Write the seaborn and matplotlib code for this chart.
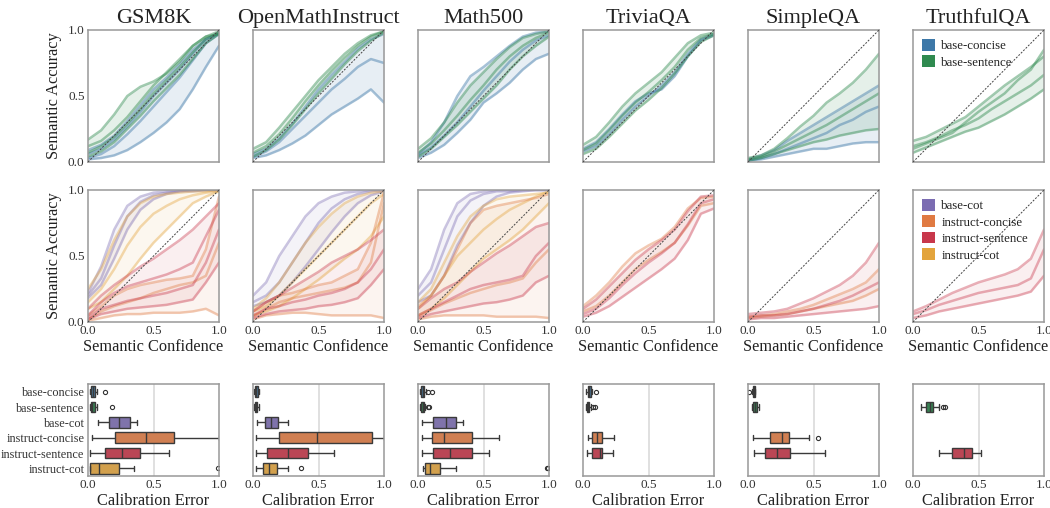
import numpy as np
import pandas as pd
import matplotlib
matplotlib.use("Agg")
import matplotlib.pyplot as plt
from matplotlib.patches import Patch
import seaborn as sns

# ---------------- data ----------------
datasets = ["GSM8K", "OpenMathInstruct", "Math500", "TriviaQA", "SimpleQA", "TruthfulQA"]
configs = ["base-concise", "base-sentence", "base-cot",
           "instruct-concise", "instruct-sentence", "instruct-cot"]
conf_grid = [0.0, 0.1, 0.2, 0.3, 0.4, 0.5, 0.6, 0.7, 0.8, 0.9, 1.0]

# --- top row: base-concise / base-sentence reliability curves ---
gsm8k_base_concise = [
    [0.06, 0.10, 0.17, 0.27, 0.38, 0.50, 0.60, 0.70, 0.82, 0.93, 0.98],
    [0.03, 0.06, 0.12, 0.21, 0.31, 0.42, 0.53, 0.64, 0.77, 0.90, 0.97],
    [0.02, 0.03, 0.05, 0.09, 0.15, 0.22, 0.30, 0.40, 0.55, 0.72, 0.88],
    [0.09, 0.13, 0.20, 0.31, 0.43, 0.55, 0.64, 0.74, 0.85, 0.93, 0.97]]
gsm8k_base_sentence = [
    [0.07, 0.12, 0.19, 0.29, 0.40, 0.52, 0.62, 0.72, 0.83, 0.93, 0.98],
    [0.12, 0.16, 0.24, 0.34, 0.46, 0.58, 0.68, 0.78, 0.88, 0.95, 0.99],
    [0.04, 0.08, 0.15, 0.25, 0.35, 0.46, 0.56, 0.66, 0.78, 0.90, 0.97],
    [0.17, 0.24, 0.36, 0.50, 0.57, 0.61, 0.67, 0.76, 0.88, 0.95, 0.97]]
openmath_base_concise = [
    [0.06, 0.10, 0.18, 0.29, 0.42, 0.55, 0.66, 0.76, 0.86, 0.93, 0.97],
    [0.04, 0.08, 0.15, 0.25, 0.35, 0.45, 0.55, 0.63, 0.72, 0.78, 0.75],
    [0.03, 0.05, 0.09, 0.14, 0.20, 0.28, 0.36, 0.42, 0.48, 0.55, 0.45]]
openmath_base_sentence = [
    [0.07, 0.12, 0.21, 0.33, 0.46, 0.58, 0.69, 0.79, 0.88, 0.95, 0.99],
    [0.10, 0.15, 0.26, 0.38, 0.50, 0.62, 0.72, 0.82, 0.90, 0.96, 0.99],
    [0.04, 0.09, 0.17, 0.28, 0.40, 0.52, 0.63, 0.74, 0.84, 0.92, 0.98]]
math500_base_concise = [
    [0.05, 0.11, 0.20, 0.30, 0.42, 0.54, 0.65, 0.76, 0.85, 0.92, 0.96],
    [0.03, 0.07, 0.13, 0.22, 0.32, 0.45, 0.52, 0.60, 0.70, 0.78, 0.82],
    [0.06, 0.15, 0.30, 0.50, 0.65, 0.72, 0.80, 0.88, 0.95, 0.98, 0.99]]
math500_base_sentence = [
    [0.07, 0.14, 0.24, 0.35, 0.47, 0.58, 0.70, 0.80, 0.88, 0.94, 0.98],
    [0.10, 0.18, 0.30, 0.45, 0.58, 0.68, 0.78, 0.87, 0.94, 0.97, 0.99],
    [0.04, 0.10, 0.19, 0.28, 0.38, 0.48, 0.58, 0.70, 0.80, 0.88, 0.95]]
trivia_base_concise = [
    [0.08, 0.12, 0.21, 0.32, 0.42, 0.50, 0.58, 0.68, 0.82, 0.93, 0.97],
    [0.10, 0.15, 0.25, 0.36, 0.46, 0.52, 0.55, 0.65, 0.80, 0.92, 0.96]]
trivia_base_sentence = [
    [0.09, 0.14, 0.24, 0.35, 0.45, 0.53, 0.62, 0.72, 0.85, 0.94, 0.97],
    [0.13, 0.19, 0.30, 0.42, 0.52, 0.60, 0.68, 0.79, 0.90, 0.96, 0.98],
    [0.06, 0.10, 0.19, 0.29, 0.39, 0.47, 0.56, 0.67, 0.80, 0.91, 0.96]]
simple_base_concise = [
    [0.02, 0.05, 0.09, 0.16, 0.22, 0.28, 0.34, 0.40, 0.46, 0.52, 0.58],
    [0.01, 0.03, 0.06, 0.10, 0.14, 0.18, 0.22, 0.28, 0.32, 0.38, 0.42],
    [0.01, 0.02, 0.04, 0.06, 0.08, 0.10, 0.10, 0.12, 0.14, 0.15, 0.15]]
simple_base_sentence = [
    [0.02, 0.04, 0.08, 0.13, 0.18, 0.23, 0.28, 0.34, 0.40, 0.46, 0.52],
    [0.03, 0.05, 0.10, 0.18, 0.27, 0.35, 0.45, 0.52, 0.60, 0.70, 0.82],
    [0.01, 0.03, 0.06, 0.09, 0.12, 0.15, 0.17, 0.20, 0.22, 0.24, 0.25]]
truthful_base_sentence = [
    [0.12, 0.15, 0.19, 0.24, 0.28, 0.33, 0.40, 0.46, 0.52, 0.58, 0.66],
    [0.16, 0.19, 0.24, 0.29, 0.34, 0.42, 0.50, 0.58, 0.65, 0.72, 0.80],
    [0.07, 0.11, 0.15, 0.19, 0.23, 0.26, 0.31, 0.36, 0.42, 0.48, 0.55],
    [0.10, 0.14, 0.18, 0.22, 0.30, 0.38, 0.45, 0.52, 0.62, 0.70, 0.85]]

# --- middle row: base-cot / instruct-* reliability curves ---
gsm8k_base_cot = [
    [0.20, 0.33, 0.58, 0.80, 0.91, 0.96, 0.98, 0.99, 1.00, 1.00, 1.00],
    [0.22, 0.42, 0.70, 0.88, 0.95, 0.98, 0.99, 1.00, 1.00, 1.00, 1.00],
    [0.18, 0.28, 0.48, 0.70, 0.85, 0.93, 0.97, 0.99, 0.99, 1.00, 1.00]]
gsm8k_instruct_cot = [
    [0.15, 0.25, 0.40, 0.58, 0.72, 0.82, 0.88, 0.93, 0.96, 0.98, 0.99],
    [0.10, 0.15, 0.25, 0.35, 0.48, 0.60, 0.70, 0.80, 0.90, 0.95, 0.99],
    [0.25, 0.40, 0.62, 0.80, 0.90, 0.95, 0.97, 0.98, 0.99, 0.99, 1.00]]
gsm8k_instruct_concise = [
    [0.02, 0.08, 0.12, 0.15, 0.18, 0.22, 0.25, 0.28, 0.30, 0.35, 0.60],
    [0.01, 0.03, 0.05, 0.06, 0.06, 0.07, 0.07, 0.07, 0.08, 0.10, 0.05],
    [0.05, 0.12, 0.20, 0.25, 0.28, 0.30, 0.32, 0.33, 0.35, 0.55, 0.95]]
gsm8k_instruct_sentence = [
    [0.03, 0.10, 0.13, 0.16, 0.18, 0.20, 0.22, 0.25, 0.28, 0.45, 0.70],
    [0.05, 0.15, 0.22, 0.27, 0.30, 0.33, 0.36, 0.40, 0.45, 0.65, 0.85],
    [0.02, 0.06, 0.08, 0.10, 0.11, 0.12, 0.13, 0.15, 0.17, 0.30, 0.45],
    [0.10, 0.20, 0.28, 0.35, 0.42, 0.48, 0.55, 0.62, 0.70, 0.80, 0.90]]
openmath_base_cot = [
    [0.15, 0.20, 0.30, 0.45, 0.60, 0.75, 0.86, 0.93, 0.97, 0.99, 1.00],
    [0.20, 0.30, 0.50, 0.65, 0.80, 0.90, 0.95, 0.98, 0.99, 1.00, 1.00],
    [0.12, 0.15, 0.20, 0.30, 0.42, 0.55, 0.68, 0.80, 0.90, 0.96, 0.99]]
openmath_instruct_cot = [
    [0.08, 0.12, 0.20, 0.30, 0.40, 0.50, 0.60, 0.70, 0.80, 0.90, 0.97],
    [0.10, 0.18, 0.30, 0.45, 0.60, 0.72, 0.82, 0.90, 0.95, 0.98, 0.99],
    [0.05, 0.08, 0.12, 0.18, 0.25, 0.32, 0.40, 0.48, 0.55, 0.65, 0.80]]
openmath_instruct_concise = [
    [0.04, 0.10, 0.15, 0.18, 0.20, 0.22, 0.24, 0.26, 0.30, 0.45, 0.90],
    [0.02, 0.05, 0.06, 0.07, 0.07, 0.06, 0.05, 0.05, 0.05, 0.05, 0.03],
    [0.08, 0.15, 0.20, 0.22, 0.25, 0.28, 0.30, 0.35, 0.40, 0.60, 0.98]]
openmath_instruct_sentence = [
    [0.05, 0.10, 0.12, 0.15, 0.17, 0.20, 0.22, 0.25, 0.30, 0.40, 0.55],
    [0.03, 0.06, 0.08, 0.09, 0.10, 0.12, 0.13, 0.15, 0.18, 0.28, 0.40],
    [0.08, 0.15, 0.20, 0.26, 0.32, 0.38, 0.45, 0.50, 0.55, 0.62, 0.70]]
math500_base_cot = [
    [0.20, 0.30, 0.55, 0.80, 0.92, 0.97, 0.99, 0.99, 1.00, 1.00, 1.00],
    [0.15, 0.20, 0.35, 0.58, 0.75, 0.88, 0.95, 0.98, 0.99, 1.00, 1.00],
    [0.25, 0.40, 0.70, 0.90, 0.97, 0.99, 1.00, 1.00, 1.00, 1.00, 1.00]]
math500_instruct_cot = [
    [0.10, 0.20, 0.35, 0.50, 0.60, 0.70, 0.78, 0.85, 0.90, 0.95, 0.99],
    [0.15, 0.25, 0.45, 0.65, 0.80, 0.88, 0.93, 0.95, 0.96, 0.97, 0.98],
    [0.05, 0.10, 0.18, 0.28, 0.38, 0.48, 0.55, 0.62, 0.70, 0.80, 0.90]]
math500_instruct_concise = [
    [0.12, 0.20, 0.35, 0.55, 0.75, 0.85, 0.88, 0.90, 0.92, 0.94, 0.97],
    [0.02, 0.04, 0.05, 0.05, 0.05, 0.05, 0.04, 0.04, 0.04, 0.04, 0.03],
    [0.04, 0.09, 0.14, 0.18, 0.22, 0.25, 0.28, 0.30, 0.33, 0.45, 0.55]]
math500_instruct_sentence = [
    [0.05, 0.10, 0.15, 0.20, 0.25, 0.28, 0.30, 0.32, 0.35, 0.50, 0.60],
    [0.03, 0.06, 0.08, 0.10, 0.12, 0.14, 0.15, 0.17, 0.20, 0.30, 0.35],
    [0.10, 0.18, 0.25, 0.30, 0.38, 0.45, 0.52, 0.58, 0.65, 0.72, 0.75]]
trivia_instruct_concise = [
    [0.08, 0.12, 0.20, 0.30, 0.40, 0.47, 0.53, 0.60, 0.73, 0.88, 0.90],
    [0.12, 0.20, 0.30, 0.42, 0.52, 0.58, 0.63, 0.72, 0.86, 0.94, 0.95]]
trivia_instruct_sentence = [
    [0.06, 0.10, 0.18, 0.28, 0.37, 0.45, 0.52, 0.60, 0.74, 0.90, 0.93],
    [0.10, 0.17, 0.27, 0.37, 0.47, 0.55, 0.62, 0.70, 0.84, 0.95, 0.96],
    [0.04, 0.07, 0.12, 0.19, 0.26, 0.33, 0.40, 0.48, 0.62, 0.82, 0.86]]
simple_instruct_concise = [
    [0.04, 0.05, 0.06, 0.08, 0.10, 0.13, 0.17, 0.21, 0.25, 0.30, 0.40],
    [0.03, 0.04, 0.05, 0.06, 0.08, 0.10, 0.12, 0.14, 0.16, 0.20, 0.25]]
simple_instruct_sentence = [
    [0.04, 0.05, 0.05, 0.06, 0.08, 0.10, 0.13, 0.16, 0.20, 0.25, 0.30],
    [0.06, 0.07, 0.08, 0.10, 0.14, 0.18, 0.23, 0.28, 0.35, 0.45, 0.60],
    [0.02, 0.03, 0.03, 0.04, 0.05, 0.06, 0.07, 0.08, 0.09, 0.10, 0.12]]
truthful_instruct_sentence = [
    [0.06, 0.09, 0.13, 0.16, 0.19, 0.22, 0.24, 0.26, 0.28, 0.33, 0.55],
    [0.08, 0.12, 0.17, 0.22, 0.26, 0.30, 0.33, 0.36, 0.40, 0.48, 0.70],
    [0.03, 0.05, 0.08, 0.10, 0.12, 0.14, 0.16, 0.18, 0.20, 0.23, 0.35]]

# --- calibration error box summaries: (config, whisker_lo, q1, median, q3, whisker_hi, outliers) ---
box_gsm8k = [
    ("base-concise", 0.013, 0.023, 0.035, 0.056, 0.07, [0.13]),
    ("base-sentence", 0.012, 0.020, 0.030, 0.050, 0.07, [0.18]),
    ("base-cot", 0.074, 0.157, 0.236, 0.320, 0.373, []),
    ("instruct-concise", 0.03, 0.203, 0.440, 0.655, 1.0, []),
    ("instruct-sentence", 0.018, 0.132, 0.256, 0.400, 0.62, []),
    ("instruct-cot", 0.013, 0.018, 0.084, 0.240, 0.353, [0.995])]
box_openmath = [
    ("base-concise", 0.008, 0.012, 0.020, 0.035, 0.045, []),
    ("base-sentence", 0.008, 0.012, 0.020, 0.033, 0.045, []),
    ("base-cot", 0.03, 0.09, 0.14, 0.19, 0.27, []),
    ("instruct-concise", 0.02, 0.20, 0.49, 0.91, 1.0, []),
    ("instruct-sentence", 0.02, 0.11, 0.27, 0.42, 0.62, []),
    ("instruct-cot", 0.02, 0.08, 0.12, 0.18, 0.27, [0.37])]
box_math500 = [
    ("base-concise", 0.015, 0.025, 0.035, 0.045, 0.058, [0.08, 0.11]),
    ("base-sentence", 0.015, 0.025, 0.035, 0.045, 0.055, [0.08, 0.085]),
    ("base-cot", 0.033, 0.113, 0.21, 0.287, 0.34, []),
    ("instruct-concise", 0.033, 0.106, 0.20, 0.415, 0.617, []),
    ("instruct-sentence", 0.028, 0.118, 0.242, 0.415, 0.544, []),
    ("instruct-cot", 0.04, 0.05, 0.09, 0.166, 0.292, [0.985, 0.995])]
box_trivia = [
    ("base-concise", 0.025, 0.035, 0.045, 0.058, 0.07, [0.098]),
    ("base-sentence", 0.02, 0.030, 0.040, 0.048, 0.06, [0.078, 0.094]),
    ("instruct-concise", 0.035, 0.066, 0.106, 0.142, 0.24, []),
    ("instruct-sentence", 0.028, 0.066, 0.127, 0.144, 0.228, [])]
box_simple = [
    ("base-concise", 0.028, 0.035, 0.042, 0.050, 0.055, [0.01]),
    ("base-sentence", 0.03, 0.035, 0.050, 0.066, 0.083, []),
    ("instruct-concise", 0.04, 0.17, 0.26, 0.31, 0.465, [0.535]),
    ("instruct-sentence", 0.048, 0.129, 0.222, 0.323, 0.586, [])]
box_truthful = [
    ("base-sentence", 0.06, 0.10, 0.13, 0.15, 0.20, [0.23, 0.245]),
    ("instruct-sentence", 0.20, 0.30, 0.39, 0.45, 0.52, [])]

colors = {"base-concise": "#3d78a8", "base-sentence": "#2f8a4f", "base-cot": "#7b6cb2",
          "instruct-concise": "#e07a42", "instruct-sentence": "#c8374b", "instruct-cot": "#e3a43c"}

top_curves = {
    "GSM8K": [("base-concise", gsm8k_base_concise), ("base-sentence", gsm8k_base_sentence)],
    "OpenMathInstruct": [("base-concise", openmath_base_concise), ("base-sentence", openmath_base_sentence)],
    "Math500": [("base-concise", math500_base_concise), ("base-sentence", math500_base_sentence)],
    "TriviaQA": [("base-concise", trivia_base_concise), ("base-sentence", trivia_base_sentence)],
    "SimpleQA": [("base-concise", simple_base_concise), ("base-sentence", simple_base_sentence)],
    "TruthfulQA": [("base-sentence", truthful_base_sentence)],
}
mid_curves = {
    "GSM8K": [("base-cot", gsm8k_base_cot), ("instruct-cot", gsm8k_instruct_cot),
              ("instruct-concise", gsm8k_instruct_concise), ("instruct-sentence", gsm8k_instruct_sentence)],
    "OpenMathInstruct": [("base-cot", openmath_base_cot), ("instruct-cot", openmath_instruct_cot),
                         ("instruct-concise", openmath_instruct_concise),
                         ("instruct-sentence", openmath_instruct_sentence)],
    "Math500": [("base-cot", math500_base_cot), ("instruct-cot", math500_instruct_cot),
                ("instruct-concise", math500_instruct_concise), ("instruct-sentence", math500_instruct_sentence)],
    "TriviaQA": [("instruct-concise", trivia_instruct_concise), ("instruct-sentence", trivia_instruct_sentence)],
    "SimpleQA": [("instruct-concise", simple_instruct_concise), ("instruct-sentence", simple_instruct_sentence)],
    "TruthfulQA": [("instruct-sentence", truthful_instruct_sentence)],
}
box_tables = {"GSM8K": box_gsm8k, "OpenMathInstruct": box_openmath, "Math500": box_math500,
              "TriviaQA": box_trivia, "SimpleQA": box_simple, "TruthfulQA": box_truthful}

# ---------------- style ----------------
sns.set_theme(style="white")
plt.rcParams["font.family"] = ["Liberation Serif", "DejaVu Serif"]
plt.rcParams["text.color"] = "#222222"
plt.rcParams["axes.labelcolor"] = "#222222"
plt.rcParams["xtick.color"] = "#333333"
plt.rcParams["ytick.color"] = "#333333"

W, H = 1050, 508
fig = plt.figure(figsize=(W / 100, H / 100), dpi=100)
lefts = [88, 253, 418, 583, 748, 913]
AXW = 131
TICK_FS = 9.5
LABEL_FS = 11.8


def make_ax(xpx, top, bottom):
    return fig.add_axes([xpx / W, 1 - bottom / H, AXW / W, (bottom - top) / H])


def style_spines(ax):
    for s in ax.spines.values():
        s.set_color("#999999")
        s.set_linewidth(1.1)
    ax.tick_params(length=0, labelsize=TICK_FS, pad=2.5)


def draw_curves(ax, series, line_alpha, fill_alpha):
    for cfg, curves in series:
        col = colors[cfg]
        arr = np.array(curves)
        ax.fill_between(conf_grid, arr.min(axis=0), arr.max(axis=0), color=col,
                        alpha=fill_alpha, lw=0)
        for c in curves:
            sns.lineplot(x=conf_grid, y=c, ax=ax, color=col, alpha=line_alpha, lw=1.8,
                         legend=False)
    ax.plot([0, 1], [0, 1], ls=(0, (2, 1.5)), color="#444444", lw=0.7, zorder=5)
    ax.set_xlim(0, 1)
    ax.set_ylim(0, 1)
    ax.set_xticks([0, 0.5, 1.0])
    ax.set_yticks([0, 0.5, 1.0])
    ax.set_xlabel("")
    ax.set_ylabel("")
    style_spines(ax)


for i, ds in enumerate(datasets):
    # top row
    ax = make_ax(lefts[i], 30, 162)
    draw_curves(ax, top_curves[ds], 0.45, 0.12)
    ax.set_xticklabels([])
    ax.set_title(ds, fontsize=16, pad=5)
    if i == 0:
        ax.set_yticklabels(["0.0", "0.5", "1.0"])
        ax.set_ylabel("Semantic Accuracy", fontsize=LABEL_FS, labelpad=4)
    else:
        ax.set_yticklabels([])
    if ds == "TruthfulQA":
        hs = [Patch(facecolor=colors[c], edgecolor="none") for c in ["base-concise", "base-sentence"]]
        ax.legend(hs, ["base-concise", "base-sentence"], loc="upper left", frameon=False,
                  fontsize=9.3, handlelength=1.0, handleheight=1.0, handletextpad=0.5,
                  borderaxespad=0.3, labelspacing=0.25)

    # middle row
    ax = make_ax(lefts[i], 190, 322)
    draw_curves(ax, mid_curves[ds], 0.40, 0.08)
    ax.set_xticklabels(["0.0", "0.5", "1.0"])
    ax.set_xlabel("Semantic Confidence", fontsize=LABEL_FS, labelpad=1)
    if i == 0:
        ax.set_yticklabels(["0.0", "0.5", "1.0"])
        ax.set_ylabel("Semantic Accuracy", fontsize=LABEL_FS, labelpad=4)
    else:
        ax.set_yticklabels([])
    if ds == "TruthfulQA":
        names = ["base-cot", "instruct-concise", "instruct-sentence", "instruct-cot"]
        hs = [Patch(facecolor=colors[c], edgecolor="none") for c in names]
        ax.legend(hs, names, loc="upper left", frameon=False,
                  fontsize=9.3, handlelength=1.0, handleheight=1.0, handletextpad=0.5,
                  borderaxespad=0.3, labelspacing=0.25)

    # bottom row: calibration error boxplots
    ax = make_ax(lefts[i], 384, 476)
    rows = []
    for cfg, lo, q1, med, q3, hi, outl in box_tables[ds]:
        vals = [lo] + [q1] * 10 + [med] * 10 + [q3] * 10 + [hi] + list(outl)
        rows += [(cfg, v) for v in vals]
    df = pd.DataFrame(rows, columns=["config", "err"])
    ax.axvline(0.5, color="#dddddd", lw=1.3, zorder=0)
    sns.boxplot(data=df, x="err", y="config", order=configs, hue="config", hue_order=configs,
                palette=colors, legend=False, width=0.7, linewidth=1.0, linecolor="#3a3a3a",
                saturation=0.8, ax=ax,
                flierprops=dict(marker="o", markersize=3, markerfacecolor="none",
                                markeredgecolor="#333333", markeredgewidth=0.8))
    ax.set_xlim(0, 1)
    ax.set_ylim(5.5, -0.5)
    ax.set_xticks([0, 0.5, 1.0])
    ax.set_xticklabels(["0.0", "0.5", "1.0"])
    ax.set_xlabel("Calibration Error", fontsize=LABEL_FS, labelpad=1)
    ax.set_ylabel("")
    style_spines(ax)
    if i != 0:
        ax.set_yticklabels([])
    else:
        ax.set_yticks(range(6))
        ax.set_yticklabels(configs, fontsize=8.8)

fig.savefig("out.png", dpi=100)
